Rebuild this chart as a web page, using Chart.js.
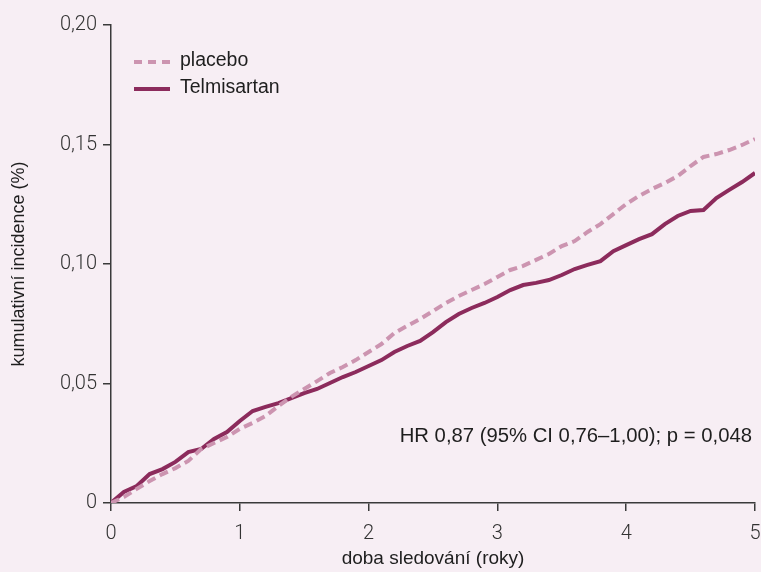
<!DOCTYPE html>
<html>
<head>
<meta charset="utf-8">
<script src="https://cdn.jsdelivr.net/npm/chart.js@4"></script>
<style>
  html, body { margin: 0; padding: 0; background: #f7eef4; }
  #wrap { width: 761px; height: 572px; }
</style>
</head>
<body>
<div id="wrap"><canvas id="chart" width="761" height="572"></canvas></div>
<script>
const YEARS = [
  0, 0.1, 0.2, 0.3, 0.4, 0.5, 0.6, 0.7, 0.8, 0.9,
  1.0, 1.1, 1.2, 1.3, 1.4, 1.5, 1.6, 1.7, 1.8, 1.9,
  2.0, 2.1, 2.2, 2.3, 2.4, 2.5, 2.6, 2.7, 2.8, 2.9,
  3.0, 3.1, 3.2, 3.3, 3.4, 3.5, 3.6, 3.7, 3.8, 3.9,
  4.0, 4.1, 4.2, 4.3, 4.4, 4.5, 4.6, 4.7, 4.8, 4.9, 5.0
];

const PLACEBO = [
  0, 0.0025, 0.0059, 0.0092, 0.0121, 0.0146, 0.0176, 0.0226, 0.0251, 0.0276,
  0.0310, 0.0335, 0.0364, 0.0406, 0.0444, 0.0477, 0.0510, 0.0544, 0.0569, 0.0598,
  0.0632, 0.0665, 0.0711, 0.0741, 0.0770, 0.0803, 0.0837, 0.0866, 0.0891, 0.0916,
  0.0946, 0.0975, 0.0992, 0.1017, 0.1042, 0.1075, 0.1096, 0.1134, 0.1167, 0.1209,
  0.1251, 0.1285, 0.1314, 0.1339, 0.1368, 0.1410, 0.1448, 0.1460, 0.1477, 0.1498, 0.1523
];

const TELMISARTAN = [
  0, 0.0046, 0.0071, 0.0121, 0.0142, 0.0172, 0.0213, 0.0226, 0.0268, 0.0297,
  0.0343, 0.0385, 0.0402, 0.0418, 0.0439, 0.0460, 0.0477, 0.0502, 0.0527, 0.0548,
  0.0573, 0.0598, 0.0632, 0.0657, 0.0678, 0.0715, 0.0757, 0.0791, 0.0816, 0.0837,
  0.0862, 0.0891, 0.0912, 0.0921, 0.0933, 0.0954, 0.0979, 0.0996, 0.1012, 0.1054,
  0.1079, 0.1104, 0.1125, 0.1167, 0.1201, 0.1222, 0.1226, 0.1276, 0.1310, 0.1343, 0.1381
];

const Y_TICKS = [0, 0.05, 0.10, 0.15, 0.20];
const X_TICKS = [0, 1, 2, 3, 4, 5];

const SERIES_NAMES = ["placebo", "Telmisartan"];
const NOTE_TEXT = "HR 0,87 (95% CI 0,76\u20131,00); p = 0,048";
const X_TITLE = "doba sledování (roky)";
const Y_TITLE = "kumulativní incidence (%)";

const COL_PLACEBO = "#cc94b0";
const COL_TELMI = "#8c2b5c";
const AXIS_COL = "#3a3a3a";
const TEXT_FONT = "'Liberation Sans', Arial, sans-serif";
const TICK_FONT = "Roboto, 'Liberation Sans', sans-serif";

function toPoints(ys) {
  return YEARS.map((x, i) => ({ x: x, y: ys[i] }));
}

function fmtComma(v) {
  if (v === 0) return "0";
  return v.toFixed(2).replace(".", ",");
}

// legend inside the plot + HR note
const overlay = {
  id: "overlay",
  afterDraw(chart) {
    const ctx = chart.ctx;
    ctx.save();
    ctx.lineWidth = 4;
    ctx.lineCap = "butt";

    ctx.strokeStyle = COL_PLACEBO;
    ctx.setLineDash([8, 6]);
    ctx.beginPath();
    ctx.moveTo(134, 62);
    ctx.lineTo(172, 62);
    ctx.stroke();

    ctx.strokeStyle = COL_TELMI;
    ctx.setLineDash([]);
    ctx.beginPath();
    ctx.moveTo(134, 89);
    ctx.lineTo(170, 89);
    ctx.stroke();

    ctx.fillStyle = "#1e1e1e";
    ctx.font = "19.5px " + TEXT_FONT;
    ctx.textAlign = "left";
    ctx.textBaseline = "middle";
    ctx.fillText(SERIES_NAMES[0], 180, 61);
    ctx.fillText(SERIES_NAMES[1], 180, 88);

    ctx.font = "20.3px " + TEXT_FONT;
    ctx.textAlign = "right";
    ctx.textBaseline = "alphabetic";
    ctx.fillText(NOTE_TEXT, 752, 442);
    ctx.restore();
  }
};

const axisGrid = {
  display: true,
  drawOnChartArea: false,
  drawTicks: true,
  tickLength: 8,
  color: AXIS_COL,
  lineWidth: 1.5
};

new Chart(document.getElementById("chart"), {
  type: "line",
  data: {
    datasets: [
      {
        label: SERIES_NAMES[0],
        data: toPoints(PLACEBO),
        borderColor: COL_PLACEBO,
        borderWidth: 4,
        borderDash: [9, 5],
        pointRadius: 0,
        tension: 0,
        fill: false
      },
      {
        label: SERIES_NAMES[1],
        data: toPoints(TELMISARTAN),
        borderColor: COL_TELMI,
        borderWidth: 4,
        pointRadius: 0,
        tension: 0,
        fill: false
      }
    ]
  },
  options: {
    responsive: false,
    animation: false,
    layout: { padding: { left: 0, right: 6, top: 25, bottom: 0 } },
    plugins: {
      legend: { display: false },
      tooltip: { enabled: false }
    },
    scales: {
      x: {
        type: "linear",
        min: 0,
        max: 5,
        afterFit: (s) => { s.height = 69; s.paddingLeft = 0; s.paddingRight = 0; },
        afterBuildTicks: (s) => { s.ticks = X_TICKS.map((v) => ({ value: v })); },
        grid: axisGrid,
        border: { display: true, color: AXIS_COL, width: 1.5 },
        ticks: {
          color: "#333",
          padding: 11,
          font: { family: TICK_FONT, size: 20, weight: 300 },
          maxRotation: 0
        },
        title: {
          display: true,
          text: X_TITLE,
          color: "#1e1e1e",
          font: { family: TEXT_FONT, size: 19 },
          padding: { top: 0, bottom: 2 }
        }
      },
      y: {
        type: "linear",
        min: 0,
        max: 0.2,
        afterFit: (s) => { s.width = 111; },
        afterBuildTicks: (s) => { s.ticks = Y_TICKS.map((v) => ({ value: v })); },
        grid: axisGrid,
        border: { display: true, color: AXIS_COL, width: 1.5 },
        ticks: {
          color: "#333",
          padding: 6,
          font: { family: TICK_FONT, size: 20, weight: 300 },
          callback: (v) => fmtComma(v)
        },
        title: {
          display: true,
          text: Y_TITLE,
          color: "#1e1e1e",
          font: { family: TEXT_FONT, size: 18 },
          padding: { top: 8, bottom: 0 }
        }
      }
    }
  },
  plugins: [overlay]
});
</script>
</body>
</html>
